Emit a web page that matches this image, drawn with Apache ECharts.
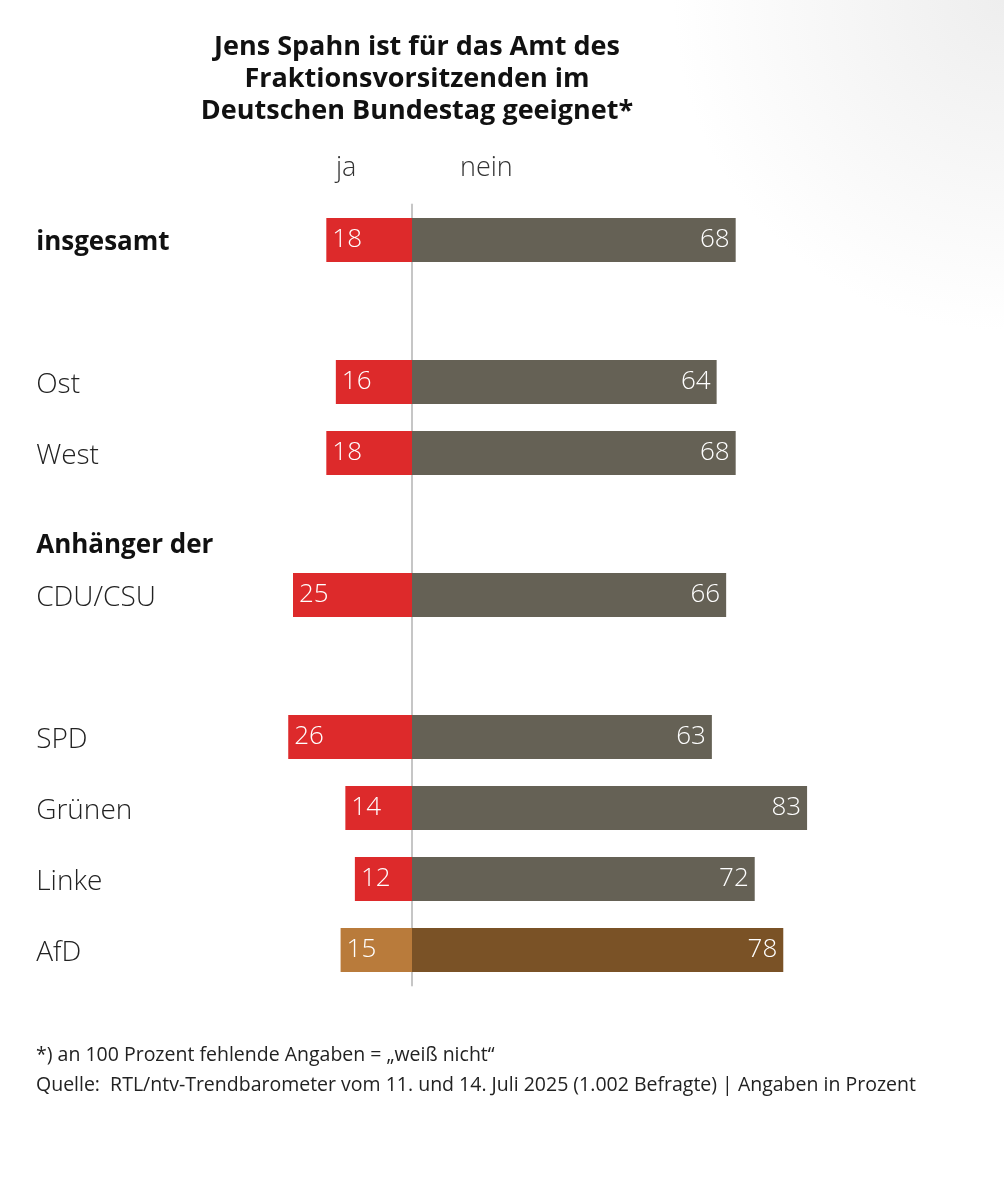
<!DOCTYPE html>
<html>
<head>
<meta charset="utf-8">
<script src="https://cdn.jsdelivr.net/npm/echarts@6/dist/echarts.min.js"></script>
<style>
  html, body { margin: 0; padding: 0; background: #fff; }
  #container { width: 1004px; height: 1200px; }
</style>
</head>
<body>
<div id="container"></div>
<script>
// rows top to bottom, "gap" rows are spacer rows
var categories = ["insgesamt", "gap1", "Ost", "West", "Anhänger der", "CDU/CSU", "gap2", "SPD", "Grünen", "Linke", "AfD"];
var jaValues = [18, null, 16, 18, null, 25, null, 26, 14, 12, 15];
var neinValues = [68, null, 64, 68, null, 66, null, 63, 83, 72, 78];
var boldRows = ["insgesamt"];
var headRows = ["Anhänger der"];
var columnHeads = ["ja", "nein"];
var titleText = "Jens Spahn ist für das Amt des\nFraktionsvorsitzenden im\nDeutschen Bundestag geeignet*";
var footnotes = [
    "*) an 100 Prozent fehlende Angaben = „weiß nicht“",
    "Quelle:  RTL/ntv-Trendbarometer vom 11. und 14. Juli 2025 (1.002 Befragte) | Angaben in Prozent"
];

var RED = "#dd2a2b", GREY = "#656155", AFD_JA = "#b97b3b", AFD_NEIN = "#7a5226";
var FONT = "'Open Sans', 'Noto Sans', sans-serif";

function barData(values, isJa) {
    return values.map(function (v, i) {
        if (v == null) return null;
        var afd = categories[i] == "AfD";
        return {
            value: isJa ? -v : v,
            itemStyle: { color: afd ? (isJa ? AFD_JA : AFD_NEIN) : (isJa ? RED : GREY) }
        };
    });
}

var dom = document.getElementById("container");
var myChart = echarts.init(dom, null, { renderer: "canvas" });

var option = {
    animation: false,
    backgroundColor: "#ffffff",
    title: {
        text: titleText,
        left: 412,
        top: 26,
        textAlign: "center",
        textStyle: { fontFamily: FONT, fontWeight: "bold", fontSize: 27, lineHeight: 32, color: "#111", letterSpacing: -0.9 }
    },
    grid: { left: 269.2, width: 571.2, top: 204.5, height: 781, containLabel: false, outerBoundsMode: "none" },
    xAxis: {
        type: "value", min: -30, max: 90,
        show: false
    },
    yAxis: {
        type: "category",
        inverse: true,
        data: categories,
        axisTick: { show: false },
        axisLine: { show: true, onZero: true, lineStyle: { color: "#c6c6c6", width: 2 } },
        axisLabel: {
            margin: 233,
            align: "left",
            fontFamily: FONT,
            fontSize: 28,
            fontWeight: 300,
            color: "#222",
            padding: [6, 0, 0, 0],
            formatter: function (v) {
                if (v.indexOf("gap") == 0) return "";
                if (boldRows.indexOf(v) >= 0) return "{b|" + v + "}";
                if (headRows.indexOf(v) >= 0) return "{h|" + v + "}";
                return v;
            },
            rich: {
                b: { fontFamily: FONT, fontSize: 26, fontWeight: "bold", color: "#111", letterSpacing: -0.5 },
                h: { fontFamily: FONT, fontSize: 26, fontWeight: "bold", color: "#111", letterSpacing: -0.5, padding: [38, 0, 0, 0] }
            }
        }
    },
    graphic: [
        {
            type: "rect", z: -10, silent: true,
            shape: { x: 0, y: 0, width: 1004, height: 1200 },
            style: {
                fill: new echarts.graphic.RadialGradient(1, 0, 0.33, [
                    { offset: 0, color: "#eeeeee" },
                    { offset: 1, color: "#ffffff" }
                ])
            }
        },
        {
            type: "text", left: 336, top: 155,
            style: { text: columnHeads[0], fontFamily: FONT, fontSize: 27, fontWeight: 300, fill: "#333" }
        },
        {
            type: "text", left: 460, top: 155,
            style: { text: columnHeads[1], fontFamily: FONT, fontSize: 27, fontWeight: 300, fill: "#333" }
        },
        {
            type: "text", left: 36, top: 1045,
            style: { text: footnotes[0], fontFamily: FONT, fontSize: 19.5, fill: "#222", letterSpacing: -0.3 }
        },
        {
            type: "text", left: 36, top: 1075,
            style: { text: footnotes[1], fontFamily: FONT, fontSize: 19.5, fill: "#222", letterSpacing: -0.3 }
        }
    ],
    series: [
        {
            name: columnHeads[0], type: "bar", stack: "all", barWidth: 44,
            data: barData(jaValues, true),
            label: {
                show: true, position: "insideLeft", distance: 6,
                fontFamily: FONT, fontSize: 26, fontWeight: 300, color: "#fff",
                formatter: function (p) { return Math.abs(p.value); }
            }
        },
        {
            name: columnHeads[1], type: "bar", stack: "all", barWidth: 44,
            data: barData(neinValues, false),
            label: {
                show: true, position: "insideRight", distance: 6,
                fontFamily: FONT, fontSize: 26, fontWeight: 300, color: "#fff"
            }
        }
    ]
};

myChart.setOption(option);
</script>
</body>
</html>
